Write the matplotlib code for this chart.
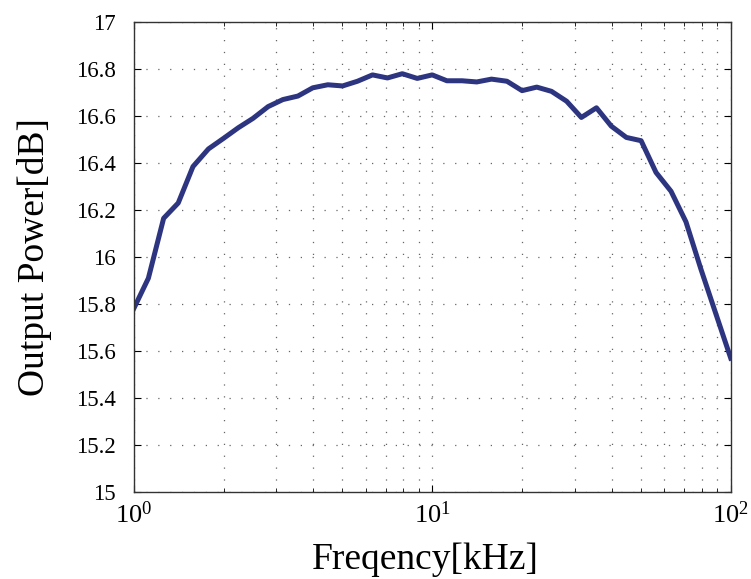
import numpy as np
import matplotlib
matplotlib.use('Agg')
import matplotlib.pyplot as plt
from matplotlib.ticker import LogLocator, MultipleLocator, FuncFormatter

plt.rcParams['font.family'] = 'Liberation Serif'
plt.rcParams['mathtext.fontset'] = 'custom'
plt.rcParams['mathtext.rm'] = 'Liberation Serif'

# частота, кГц (20 точек на декаду)
freq = [1.0, 1.12, 1.26, 1.41, 1.58, 1.78, 2.0, 2.24, 2.51, 2.82,
        3.16, 3.55, 3.98, 4.47, 5.01, 5.62, 6.31, 7.08, 7.94, 8.91,
        10.0, 11.2, 12.6, 14.1, 15.8, 17.8, 20.0, 22.4, 25.1, 28.2,
        31.6, 35.5, 39.8, 44.7, 50.1, 56.2, 63.1, 70.8, 79.4, 89.1, 100.0]
# выходная мощность, дБ
power = [15.78, 15.91, 16.165, 16.23, 16.385, 16.46, 16.505, 16.55, 16.59, 16.64,
         16.67, 16.685, 16.72, 16.733, 16.728, 16.748, 16.775, 16.762, 16.78, 16.76,
         16.775, 16.75, 16.75, 16.745, 16.757, 16.748, 16.708, 16.723, 16.705, 16.663,
         16.594, 16.635, 16.557, 16.509, 16.495, 16.36, 16.28, 16.15, 15.95, 15.76, 15.57]

fig = plt.figure(figsize=(7.51, 5.79), dpi=100)
ax = fig.add_axes([0.178, 0.150, 0.795, 0.812])

ax.semilogx(freq, power, color='#2d3580', lw=3.6, solid_joinstyle='round')

ax.set_xlim(1, 100)
ax.set_ylim(15, 17)
ax.yaxis.set_major_locator(MultipleLocator(0.2))
ax.yaxis.set_major_formatter(FuncFormatter(lambda v, p: f'{v:g}'))
ax.xaxis.set_minor_locator(LogLocator(base=10, subs=np.arange(2, 10)))

# пунктирная сетка в стиле MATLAB
grid_style = dict(linestyle=(0, (1, 8.5)), color='#666666', lw=0.9)
ax.grid(True, which='major', axis='both', **grid_style)
ax.grid(True, which='minor', axis='x', **grid_style)

ax.tick_params(which='both', direction='in', top=True, right=True)
ax.tick_params(which='major', length=5)
ax.tick_params(which='minor', length=3)
ax.tick_params(axis='y', labelsize=16.5, pad=13)
ax.tick_params(axis='x', labelsize=19, pad=7)
for s in ax.spines.values():
    s.set_linewidth(1.0)
    s.set_color('#333333')

ax.set_xlabel('Freqency[kHz]', fontsize=27, labelpad=10, x=0.488)
ax.set_ylabel('Output Power[dB]', fontsize=27, labelpad=17)

fig.savefig('out.png', dpi=100)
